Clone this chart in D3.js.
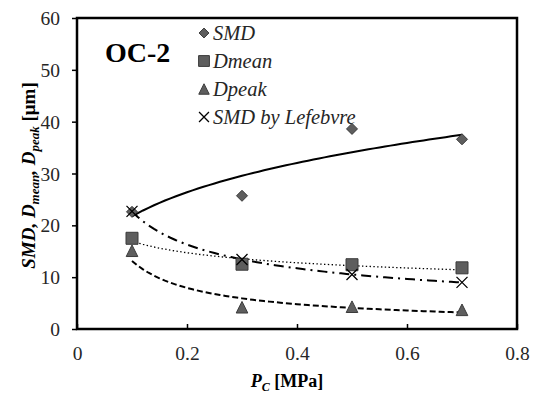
<!doctype html>
<html>
    <head>
        <style>
            body {margin:0; background:#fff}
            svg {width:534px; height:394px}
            .axis path {display:none}
        </style>
        <script src="https://d3js.org/d3.v7.min.js"></script>
    </head>
    <body>
        <script>
            // data
            var pressures = [0.1, 0.3, 0.5, 0.7];
            var smd = [22.6, 25.7, 38.6, 36.6];
            var dmean = [17.5, 12.5, 12.4, 11.8];
            var dpeak = [15.1, 4.2, 4.3, 3.7];
            var smdLefebvre = [22.7, 13.4, 10.5, 9.0];
            var xTicks = [0, 0.2, 0.4, 0.6, 0.8];
            var yTicks = [0, 10, 20, 30, 40, 50, 60];
            var legendNames = ["SMD","Dmean","Dpeak","SMD by Lefebvre"];

            var FONT = "Liberation Serif";
            var margin = {left:77, top:18, right:17, bottom:65};
            var width = 534 - margin.left - margin.right;
            var height = 394 - margin.top - margin.bottom;

            var svg = d3.select("body").append("svg")
                .attr("width",534).attr("height",394)
                .attr("font-family",FONT);
            var g = svg.append("g").attr("transform","translate("+margin.left+","+margin.top+")");

            var x = d3.scaleLinear().domain([0,0.8]).range([0,width]);
            var y = d3.scaleLinear().domain([0,60]).range([height,0]);

            //axes
            var xAxis = g.append("g").attr("class","axis")
                .attr("transform","translate(0,"+height+")")
                .call(d3.axisBottom(x).tickValues(xTicks).tickSizeInner(-5).tickSizeOuter(0).tickPadding(17)
                    .tickFormat(function(d){return d===0 ? "0" : d3.format(".1f")(d)}));
            var yAxis = g.append("g").attr("class","axis")
                .call(d3.axisLeft(y).tickValues(yTicks).tickSizeInner(5).tickSizeOuter(0).tickPadding(12));
            [xAxis, yAxis].forEach(function(a){
                a.attr("font-family",FONT).attr("font-size",19.5);
                a.selectAll("text").attr("font-family",FONT).attr("fill","#262626");
                a.selectAll("line").attr("stroke","#000").attr("stroke-width",1.5);
            });
            yAxis.selectAll("text").attr("dy","0.34em");

            // plot frame
            g.append("rect").attr("width",width).attr("height",height)
                .attr("fill","none").attr("stroke","#000").attr("stroke-width",2.5);

            // power trendline, fitted like excel does (least squares in log space)
            function powerFit(xs, ys){
                var lx = xs.map(Math.log), ly = ys.map(Math.log);
                var mx = d3.mean(lx), my = d3.mean(ly);
                var b = d3.sum(lx, function(v,i){return (v-mx)*(ly[i]-my)}) / d3.sum(lx, function(v){return (v-mx)*(v-mx)});
                var a = Math.exp(my - b*mx);
                return function(t){return a*Math.pow(t,b)};
            }

            var series = [
                {vals:smd, dash:null, w:2, shape:"diamond"},
                {vals:dmean, dash:"1.4,2.4", w:1.3, shape:"square"},
                {vals:dpeak, dash:"6,3", w:2, shape:"triangle"},
                {vals:smdLefebvre, dash:"10,5,2,5", w:2, shape:"cross"}
            ];

            var line = d3.line().x(function(d){return x(d[0])}).y(function(d){return y(d[1])});
            var steps = d3.range(0,61).map(function(i){return 0.1 + i*0.01});

            series.forEach(function(s){
                var f = powerFit(pressures, s.vals);
                g.append("path")
                    .datum(steps.map(function(t){return [t, f(t)]}))
                    .attr("d",line)
                    .attr("fill","none").attr("stroke","#000")
                    .attr("stroke-width",s.w)
                    .attr("stroke-dasharray",s.dash);
            });

            // marker outlines, in pixels round the point
            function markerPath(shape, r){
                var p = d3.path();
                if (shape==="diamond") {
                    p.moveTo(0,-r); p.lineTo(r,0); p.lineTo(0,r); p.lineTo(-r,0); p.closePath();
                } else if (shape==="square") {
                    p.rect(-r,-r,2*r,2*r);
                } else if (shape==="triangle") {
                    p.moveTo(0,-r); p.lineTo(r,r); p.lineTo(-r,r); p.closePath();
                } else {
                    p.moveTo(-r,-r); p.lineTo(r,r); p.moveTo(r,-r); p.lineTo(-r,r);
                }
                return p.toString();
            }
            var markerSize = {diamond:5.5, square:6, triangle:5.8, cross:5.5};

            function drawMarker(sel, shape, scale){
                var p = sel.append("path").attr("d",markerPath(shape, markerSize[shape]*scale));
                if (shape==="cross") {
                    p.attr("fill","none").attr("stroke","#000").attr("stroke-width",1.3);
                } else {
                    p.attr("fill","#5e5e5e").attr("stroke","#3a3a3a").attr("stroke-width",1);
                }
            }

            series.forEach(function(s){
                g.append("g").selectAll("g")
                    .data(s.vals)
                    .enter()
                    .append("g")
                    .attr("transform",function(d,i){
                        return "translate("+x(pressures[i])+","+y(d)+")";
                    })
                    .each(function(){drawMarker(d3.select(this), s.shape, 1)});
            });

            // legend
            var legend = svg.append("g").attr("transform","translate(204,33)");
            legendNames.forEach(function(name,i){
                var row = legend.append("g").attr("transform","translate(0,"+(i*28)+")");
                drawMarker(row, series[i].shape, 0.9);
                row.append("text").attr("x",9).attr("y",6.5)
                    .attr("font-family",FONT)
                    .attr("font-size","20.5px").attr("font-style","italic").attr("fill","#262626")
                    .text(name);
            });

            svg.append("text").attr("x",105).attr("y",62).attr("font-family",FONT)
                .attr("font-size","28px").attr("font-weight","bold").text("OC-2");

            // axis titles
            var xt = svg.append("text").attr("x",margin.left+width/2-10).attr("y",387)
                .attr("font-family",FONT)
                .attr("text-anchor","middle").attr("font-size","18px").attr("font-weight","bold");
            xt.append("tspan").attr("font-style","italic").text("P");
            xt.append("tspan").attr("font-style","italic").attr("font-size","12px").attr("dy",4).text("C");
            xt.append("tspan").attr("dy",-4).text(" [MPa]");

            var yt = svg.append("text").attr("transform","translate(35,"+(margin.top+height/2+2)+") rotate(-90)")
                .attr("font-family",FONT)
                .attr("text-anchor","middle").attr("font-size","19px").attr("font-weight","bold");
            yt.append("tspan").attr("font-style","italic").text("SMD, D");
            yt.append("tspan").attr("font-style","italic").attr("font-size","13px").attr("dy",4).text("mean");
            yt.append("tspan").attr("font-style","italic").attr("dy",-4).text(", D");
            yt.append("tspan").attr("font-style","italic").attr("font-size","13px").attr("dy",4).text("peak");
            yt.append("tspan").attr("dy",-4).text(" [μm]");
        </script>
    </body>
</html>
